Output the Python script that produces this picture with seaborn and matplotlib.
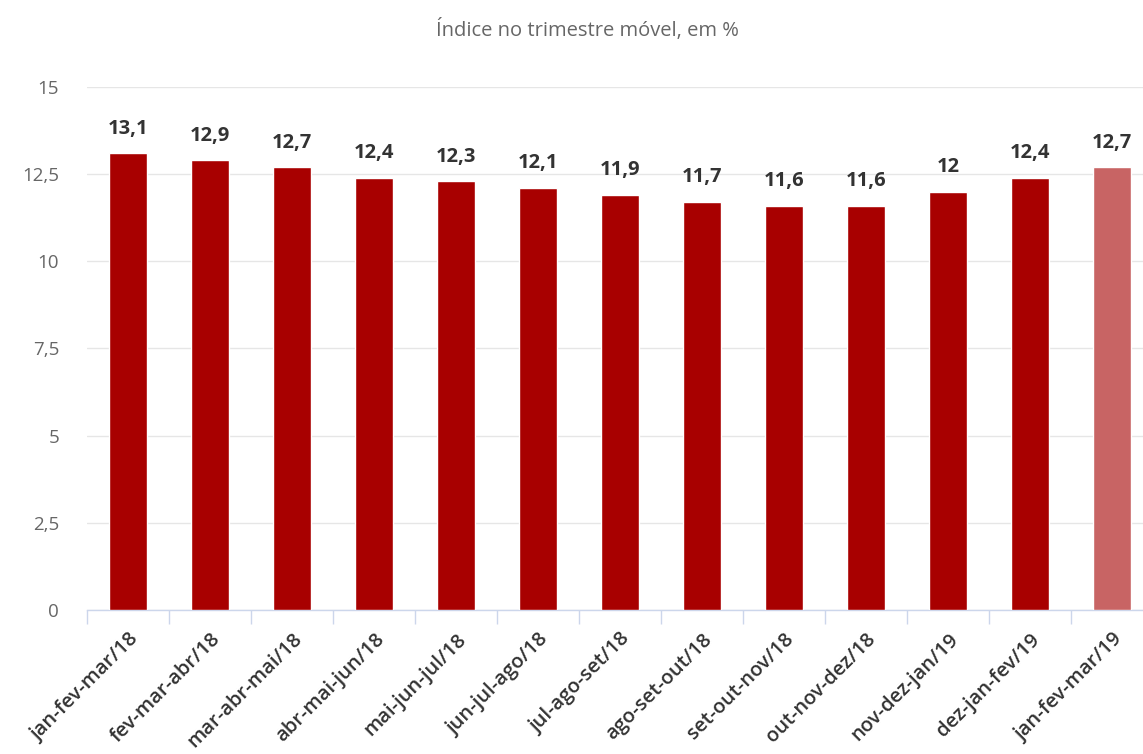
import matplotlib
matplotlib.use("Agg")
import matplotlib.pyplot as plt
import seaborn as sns
import pandas as pd
import numpy as np

# data
periods = ["jan-fev-mar/18", "fev-mar-abr/18", "mar-abr-mai/18", "abr-mai-jun/18",
           "mai-jun-jul/18", "jun-jul-ago/18", "jul-ago-set/18", "ago-set-out/18",
           "set-out-nov/18", "out-nov-dez/18", "nov-dez-jan/19", "dez-jan-fev/19",
           "jan-fev-mar/19"]
rates = [13.1, 12.9, 12.7, 12.4, 12.3, 12.1, 11.9, 11.7, 11.6, 11.6, 12.0, 12.4, 12.7]
rate_labels = ["13,1", "12,9", "12,7", "12,4", "12,3", "12,1", "11,9", "11,7",
               "11,6", "11,6", "12", "12,4", "12,7"]
y_ticks = [0, 2.5, 5, 7.5, 10, 12.5, 15]
y_tick_labels = ["0", "2,5", "5", "7,5", "10", "12,5", "15"]

sns.set_theme(style="white")
plt.rcParams["font.family"] = ["Open Sans", "DejaVu Sans"]

df = pd.DataFrame({"periodo": periods, "taxa": rates})
colors = ["#a80000"] * (len(periods) - 1) + ["#c86464"]

fig = plt.figure(figsize=(11.43, 7.54), dpi=100)
ax = fig.add_axes([0.0761, 0.191, 0.9327, 0.6936])

sns.barplot(data=df, x="periodo", y="taxa", hue="periodo", palette=colors,
            saturation=1, legend=False, width=0.46, ax=ax, zorder=3)

for i, (v, lab) in enumerate(zip(rates, rate_labels)):
    ax.text(i, v + 0.42, lab, ha="center", va="bottom", fontsize=14.5,
            fontweight="bold", color="#333333")

ax.set_ylim(0, 15)
ax.set_xlim(-0.5, len(periods) - 0.5)
ax.set_yticks(y_ticks)
ax.set_yticklabels(y_tick_labels, color="#666666", fontsize=13.5)
ax.yaxis.grid(True, color="#e6e6e6", linewidth=1, zorder=0)
ax.tick_params(axis="y", length=0, pad=20)

ax.set_xticks(range(len(periods)))
ax.set_xticklabels(periods, rotation=45, ha="right", rotation_mode="anchor",
                   fontsize=14.5, fontweight="semibold", color="#333333")
ax.tick_params(axis="x", which="major", length=0, pad=14)
ax.set_xticks(np.arange(-0.5, len(periods), 1.0), minor=True)
ax.tick_params(axis="x", which="minor", bottom=True, length=10, color="#ccd6eb", width=1)
ax.set_xlabel("")
ax.set_ylabel("")

for side in ["top", "right", "left"]:
    ax.spines[side].set_visible(False)
ax.spines["bottom"].set_color("#ccd6eb")
ax.spines["bottom"].set_linewidth(1)

fig.text(0.514, 0.96, "Índice no trimestre móvel, em %", ha="center", va="center",
         fontsize=14.5, color="#666666")

fig.savefig("out.png", dpi=100)
